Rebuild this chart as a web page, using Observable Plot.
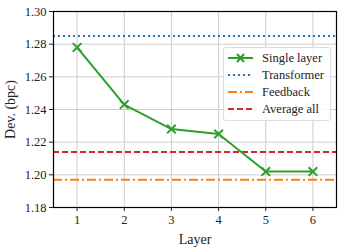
<!DOCTYPE html>
<html><head><meta charset="utf-8">
<script src="https://cdn.jsdelivr.net/npm/d3@7"></script>
<script src="https://cdn.jsdelivr.net/npm/@observablehq/plot@0.6"></script>
<style>
body{margin:0;background:#fff;}
#wrap{position:relative;width:343px;height:249px;font-family:'Liberation Serif';}
#wrap svg text{font-family:'Liberation Serif';}
#legend{position:absolute;left:223px;top:47px;width:106px;height:72px;background:rgba(255,255,255,0.85);border:1px solid #ddd;border-radius:3px;font-size:12.5px;color:#222;font-family:'Liberation Serif';}
.row{position:absolute;left:3px;height:16px;display:flex;align-items:center;}
.row span{margin-left:8px;white-space:nowrap;}
</style>
</head><body>
<div id="wrap"><div id="legend"></div></div>
<script>
const layers = [1, 2, 3, 4, 5, 6];
const singleLayer = [1.278, 1.243, 1.228, 1.225, 1.202, 1.202];
const refNames = ["Transformer", "Feedback", "Average all"];
const refValues = [1.285, 1.197, 1.214];
const refColors = ["#1f77b4", "#ff7f0e", "#d62728"];
const refDash = ["2,3", "9,3,2,3", "6,3"];
const yTicks = [1.18, 1.20, 1.22, 1.24, 1.26, 1.28, 1.30];

const single = layers.map((l, i) => ({layer: l, value: singleLayer[i]}));
const refs = refNames.map((n, i) => ({name: n, value: refValues[i], color: refColors[i], dash: refDash[i]}));

const FONT = "'Liberation Serif'";
const chart = Plot.plot({
  width: 343, height: 249,
  marginLeft: 53, marginRight: 7, marginTop: 11, marginBottom: 42,
  style: {fontFamily: FONT, fontSize: "12.5px", color: "#222", background: "#fff"},
  x: {domain: [0.5, 6.5]},
  y: {domain: [1.18, 1.30]},
  marks: [
    Plot.gridX(layers, {stroke: "#ccc", strokeOpacity: 1, strokeWidth: 1}),
    Plot.gridY(yTicks, {stroke: "#ccc", strokeOpacity: 1, strokeWidth: 1}),
    ...refs.map(r => Plot.ruleY([r.value], {stroke: r.color, strokeWidth: 2, strokeDasharray: r.dash})),
    Plot.line(single, {x: "layer", y: "value", stroke: "#2ca02c", strokeWidth: 2}),
    Plot.dot(single, {x: "layer", y: "value", symbol: "times", stroke: "#2ca02c", strokeWidth: 2, r: 4}),
    Plot.frame({stroke: "#000", strokeWidth: 1.2}),
    Plot.axisX({ticks: layers, tickFormat: d => d, label: "Layer", labelArrow: "none", labelAnchor: "center", labelOffset: 36, tickSize: 4, tickPadding: 4, fontSize: 12.5}),
    Plot.axisY({ticks: yTicks, tickFormat: d => d.toFixed(2), label: "Dev. (bpc)", labelArrow: "none", labelAnchor: "center", labelOffset: 48, tickSize: 4, tickPadding: 3, fontSize: 12.5})
  ]
});
document.getElementById("wrap").prepend(chart);
chart.querySelectorAll("[aria-label='x-axis label'] text, [aria-label='y-axis label'] text").forEach(t => t.setAttribute("font-size", "14"));

// legend
const leg = document.getElementById("legend");
const items = [{name: "Single layer", color: "#2ca02c", dash: null, marker: true}]
  .concat(refs.map(r => ({name: r.name, color: r.color, dash: r.dash, marker: false})));
items.forEach((it, i) => {
  const row = document.createElement("div");
  row.className = "row";
  row.style.top = (2 + i * 17) + "px";
  const svg = d3.create("svg").attr("width", 27).attr("height", 10);
  svg.append("line").attr("x1", 1).attr("x2", 26).attr("y1", 5).attr("y2", 5)
    .attr("stroke", it.color).attr("stroke-width", 2).attr("stroke-dasharray", it.dash);
  if (it.marker) {
    svg.append("path").attr("d", "M10,1L17,9M17,1L10,9").attr("stroke", it.color).attr("stroke-width", 2);
  }
  row.appendChild(svg.node());
  const s = document.createElement("span");
  s.textContent = it.name;
  row.appendChild(s);
  leg.appendChild(row);
});
chart.style.position = "absolute";
chart.style.left = "0"; chart.style.top = "0";
</script>
</body></html>
